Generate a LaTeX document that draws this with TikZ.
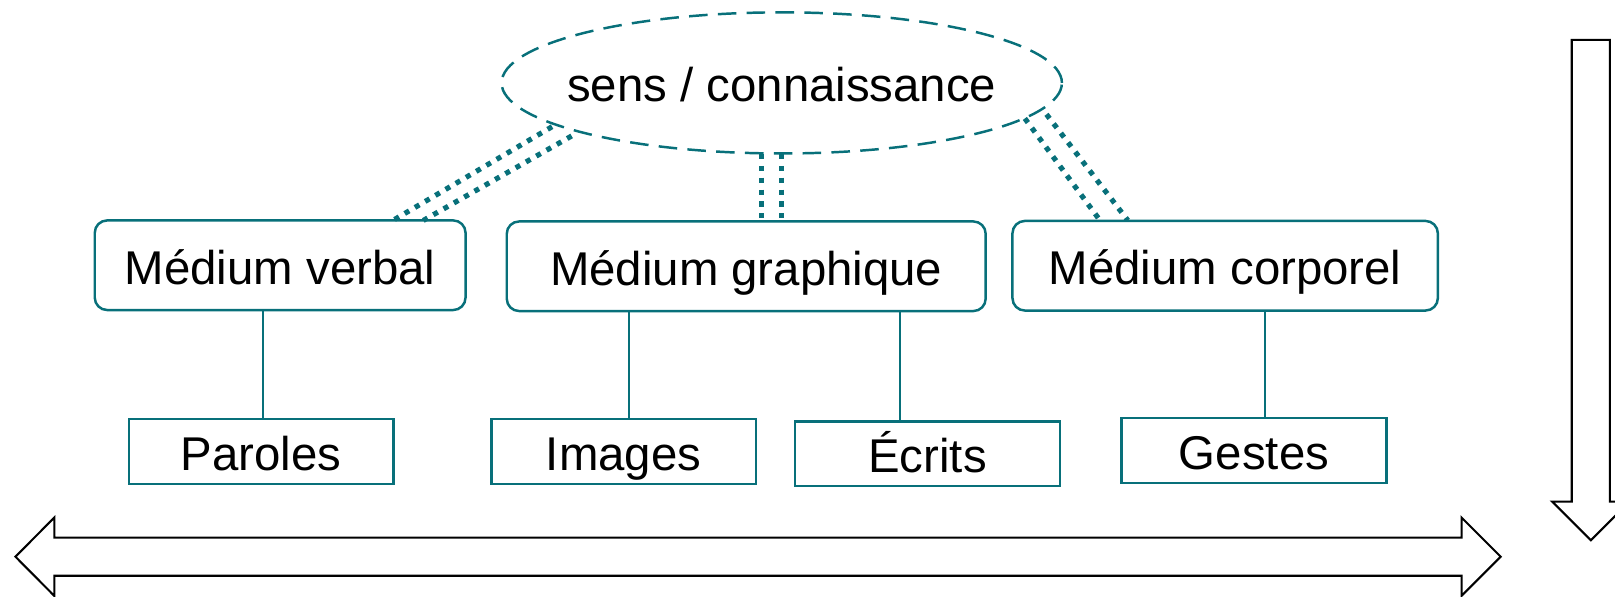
\documentclass[tikz,border=0pt]{standalone}
\usepackage{fontspec}
\setmainfont{Liberation Sans}
\usetikzlibrary{shapes.geometric}
\definecolor{teal1}{RGB}{8,112,122}
\begin{document}
\begin{tikzpicture}[x=0.5pt,y=-0.5pt,
  txt/.style={font=\fontsize{23}{27}\selectfont, text=black, inner sep=0pt, text height=19pt, text depth=0.5pt},
  medium/.style={txt, draw=teal1, line width=1.2pt, rounded corners=6pt, minimum height=43.5pt},
  leaf/.style={txt, draw=teal1, line width=1.2pt, minimum width=128.5pt, minimum height=31.5pt},
  link/.style={draw=teal1, line width=1.1pt},
  dots/.style={draw=teal1, line width=2.5pt, dash pattern=on 2.5pt off 3.25pt},
  bigarrow/.style={draw=black, line width=1pt, fill=white}]
\useasboundingbox (0,0) rectangle (1568,579);
\clip (0,0) rectangle (1568,579);

% top ellipse
\node[ellipse, draw=teal1, line width=1.2pt, dash pattern=on 9pt off 5pt, inner sep=0pt,
      minimum width=272pt, minimum height=68.5pt,
      label={[txt]center:sens / connaissance}] (ell) at (759,80.5) {};

% media boxes
\node[medium, minimum width=180pt] (verbal) at (272,257.5) {Médium verbal};
\node[medium, minimum width=232.5pt] (graph) at (724.5,258.5) {Médium graphique};
\node[medium, minimum width=206.5pt] (corp) at (1189.5,258) {Médium corporel};

% leaf boxes
\node[leaf] (paroles) at (253.5,438.5) {Paroles};
\node[leaf] (images) at (605.5,438.5) {Images};
\node[leaf] (ecrits) at (900.5,440.5) {Écrits};
\node[leaf] (gestes) at (1217.5,437.5) {Gestes};

% dotted double links
\coordinate (e1) at (536,123);
\coordinate (e2) at (555,132);
\coordinate (v1) at (381.5,214);
\coordinate (v2) at (411,214);
\coordinate (e3) at (739.5,149.5);
\coordinate (e4) at (759,149.5);
\coordinate (g1) at (739.5,215);
\coordinate (g2) at (759,215);
\coordinate (e5) at (995,115);
\coordinate (e6) at (1016,111);
\coordinate (c1) at (1068,214);
\coordinate (c2) at (1095,214);
\draw[dots] (e1) -- (v1);
\draw[dots] (e2) -- (v2);
\draw[dots] (e3) -- (g1);
\draw[dots] (e4) -- (g2);
\draw[dots] (e5) -- (c1);
\draw[dots] (e6) -- (c2);

% solid links
\coordinate (x1) at (255,0);
\coordinate (x2) at (611,0);
\coordinate (x3) at (874,0);
\coordinate (x4) at (1228,0);
\draw[link] (verbal.south -| x1) -- (paroles.north -| x1);
\draw[link] (graph.south -| x2) -- (images.north -| x2);
\draw[link] (graph.south -| x3) -- (ecrits.north -| x3);
\draw[link] (corp.south -| x4) -- (gestes.north -| x4);

% big arrows
\draw[bigarrow] (15,540.5) -- (52.7,502.5) -- (52.7,522) -- (1419,522) -- (1419,502.5)
  -- (1457,540.5) -- (1419,578.5) -- (1419,559) -- (52.7,559) -- (52.7,578.5) -- cycle;
\draw[bigarrow] (1526,38.8) -- (1563,38.8) -- (1563,487) -- (1582,487) -- (1544.5,524.5)
  -- (1507,487) -- (1526,487) -- cycle;
\end{tikzpicture}
\end{document}
